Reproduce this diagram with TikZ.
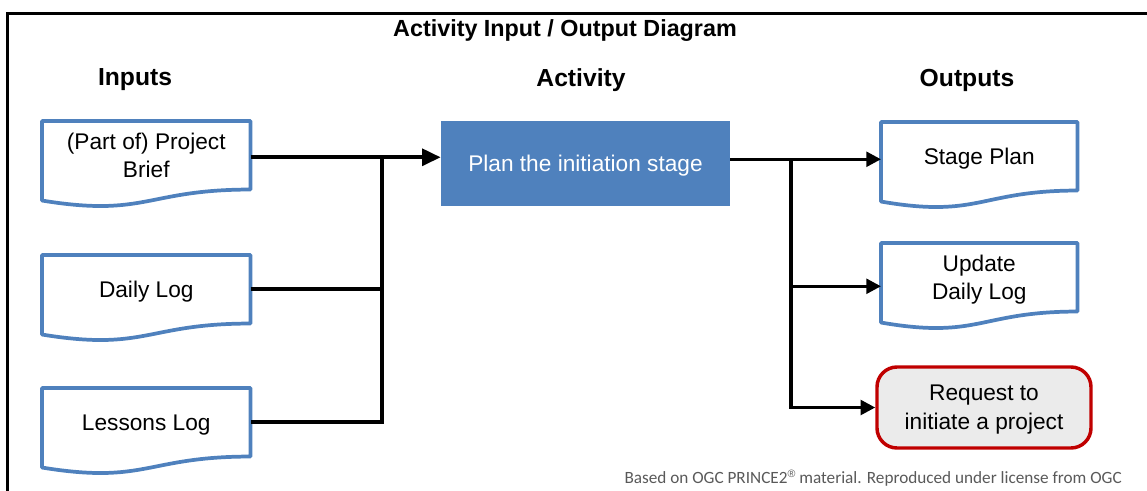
\documentclass[tikz,border=0pt]{standalone}
\usepackage{fontspec}
\setmainfont{Liberation Sans}
\newfontfamily\footfont{Carlito}
\usetikzlibrary{calc,arrows.meta}
\definecolor{docblue}{HTML}{4F81BD}
\definecolor{reqred}{HTML}{C00000}
\definecolor{reqfill}{HTML}{EBEBEB}
\definecolor{footgray}{HTML}{595959}
\tikzset{
  doc/.style={rectangle, minimum height=51pt, inner sep=0pt, align=center, text depth=0pt,
    font=\fontsize{17}{21.5}\selectfont, anchor=north west},
  indoc/.style={doc, minimum width=156pt},
  outdoc/.style={doc, minimum width=147pt},
  docline/.style={draw=docblue, line width=2.8pt, line join=round},
  actbox/.style={rectangle, fill=docblue, minimum width=216.75pt, minimum height=63.75pt,
    text=white, text depth=0pt, font=\fontsize{17}{21.5}\selectfont},
  reqbox/.style={rectangle, rounded corners=15pt, draw=reqred, line width=2.6pt, fill=reqfill,
    minimum width=160.5pt, minimum height=60.75pt, align=center, text depth=0pt,
    font=\fontsize{17}{21.5}\selectfont},
  heading/.style={font=\bfseries\fontsize{18.5}{22}\selectfont},
  titletext/.style={font=\bfseries\fontsize{17.5}{21}\selectfont},
  inline/.style={line width=3pt, line join=miter},
  outline/.style={line width=2.5pt, line join=miter},
  inarrow/.style={inline, -{Triangle[length=14pt,width=12.5pt]}},
  outarrow/.style={outline, -{Triangle[length=11pt,width=11pt]}},
  frame/.style={line width=2.25pt},
  foot/.style={font=\footfont\fontsize{12.9}{15}\selectfont, text=footgray, anchor=east, inner sep=0pt}
}
\newcommand\docoutline[1]{%
  \draw[docline] (#1.north west) -- (#1.north east) -- (#1.south east)
    .. controls (#1.south) and ($(#1.south)+(0,28)$) .. ($(#1.south west)+(0,11)$) -- cycle;}
\begin{document}
\begin{tikzpicture}[x=0.75pt,y=-0.75pt]
  \useasboundingbox (0,0) rectangle (1147,490);
  \clip (0,0) rectangle (1147,490);
  \draw[frame] (7,520) -- (7,13) -- (1180,13);

  \node[titletext] (title) at (565,30.5) {Activity Input / Output Diagram};
  \node[heading] (hin) at (135,80) {Inputs};
  \node[heading] (hact) at (581,80) {Activity};
  \node[heading] (hout) at (967,80) {Outputs};

  \node[indoc] (in1) at (42,121) {(Part of) Project\\Brief};
  \node[indoc] (in2) at (42,255) {Daily Log};
  \node[indoc] (in3) at (42,388) {Lessons Log};
  \docoutline{in1}
  \docoutline{in2}
  \docoutline{in3}

  \node[actbox] (act) at (585.5,163.5) {Plan the initiation stage};

  \node[outdoc] (out1) at (881,122) {Stage Plan};
  \node[outdoc] (out2) at (881,243) {Update\\Daily Log};
  \docoutline{out1}
  \docoutline{out2}
  \node[reqbox] (req) at (984,407.5) {Request to\\initiate a project};

  \coordinate (jin) at (382,0);
  \coordinate (jout) at (791,0);

  \draw[inarrow] ([yshift=-1.5pt]in1.east) -- ([yshift=-1.5pt]in1.east -| act.west);
  \draw[inline] ([yshift=-1.5pt]in1.east -| jin) -- (in3.east -| jin) -- (in3.east);
  \draw[inline] (in2.east) -- (in2.east -| jin);

  \draw[outarrow] ([yshift=-2.25pt]out1.west -| act.east) -- ([yshift=-2.25pt]out1.west);
  \draw[outarrow] ([yshift=-2.25pt]out1.west -| jout) |- (req.west);
  \draw[outarrow] ([yshift=-6.75pt]out2.west -| jout) -- ([yshift=-6.75pt]out2.west);

  \node[foot] (credit) at (1122,478) {Based on OGC PRINCE2{\rmfamily\fontsize{8}{8}\selectfont\raisebox{4pt}{®}} material. Reproduced under license from OGC};
\end{tikzpicture}
\end{document}
